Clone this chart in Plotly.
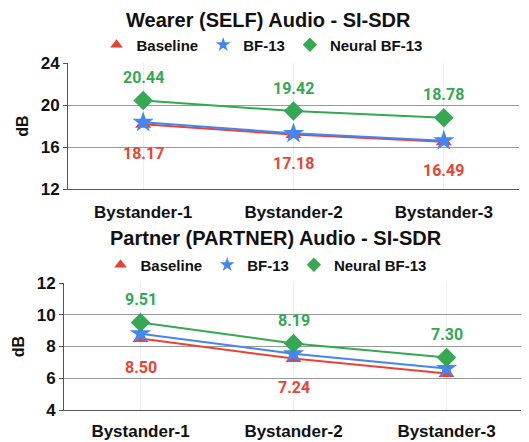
import plotly.graph_objects as go

categories = ["Bystander-1", "Bystander-2", "Bystander-3"]

self_baseline = [18.17, 17.18, 16.49]
self_bf13 = [18.35, 17.30, 16.60]
self_neural = [20.44, 19.42, 18.78]
self_baseline_labels = ["18.17", "17.18", "16.49"]
self_neural_labels = ["20.44", "19.42", "18.78"]

partner_baseline = [8.50, 7.24, 6.30]
partner_bf13 = [8.80, 7.55, 6.62]
partner_neural = [9.51, 8.19, 7.30]
partner_baseline_labels = ["8.50", "7.24", None]
partner_neural_labels = ["9.51", "8.19", "7.30"]

series_names = ["Baseline", "BF-13", "Neural BF-13"]
colors = ["#ea4335", "#4285f4", "#34a853"]
symbols = ["triangle-up", "star", "diamond"]
msizes = [14, 16, 15]

# page body has an 8px margin: figure is drawn from (8, 8)
OFF = 8
W, H = 529 - OFF, 442 - OFF
def px(p):
    return (p - OFF) / W
def py(p):
    return 1 - (p - OFF) / H

FONT = "Arial, Liberation Sans, sans-serif"
LBL_FONT = "Roboto, Arial, sans-serif"

fig = go.Figure()

panels = [
    dict(xa="x", ya="y", legend="legend",
         data=[self_baseline, self_bf13, self_neural],
         lo=self_baseline_labels, hi=self_neural_labels),
    dict(xa="x2", ya="y2", legend="legend2",
         data=[partner_baseline, partner_bf13, partner_neural],
         lo=partner_baseline_labels, hi=partner_neural_labels),
]

for p in panels:
    for i in range(3):
        fig.add_trace(go.Scatter(
            x=categories, y=p["data"][i], mode="lines+markers",
            line=dict(color=colors[i], width=2),
            marker=dict(symbol=symbols[i], size=msizes[i], color=colors[i]),
            xaxis=p["xa"], yaxis=p["ya"], showlegend=False, name=series_names[i],
        ))
    for i in range(3):
        fig.add_trace(go.Scatter(
            x=[None], y=[None], mode="markers",
            marker=dict(symbol=symbols[i], size=11, color=colors[i]),
            name=series_names[i], legend=p["legend"], showlegend=True,
            xaxis=p["xa"], yaxis=p["ya"],
        ))
    for c, v, t in zip(categories, p["data"][2], p["hi"]):
        if t is None:
            continue
        fig.add_annotation(x=c, y=v, text=t, xref=p["xa"], yref=p["ya"],
                           showarrow=False, yshift=23,
                           font=dict(family=LBL_FONT, size=16, color=colors[2], weight="bold"))
    for c, v, t in zip(categories, p["data"][0], p["lo"]):
        if t is None:
            continue
        fig.add_annotation(x=c, y=v, text=t, xref=p["xa"], yref=p["ya"],
                           showarrow=False, yshift=-29,
                           font=dict(family=LBL_FONT, size=16, color=colors[0], weight="bold"))

axis_common = dict(
    showline=True, linecolor="#555555", linewidth=1, automargin=False,
    tickfont=dict(family=FONT, size=17, color="#111111", weight="bold"),
)

fig.update_layout(
    width=W, height=H,
    margin=dict(l=0, r=0, t=0, b=0, autoexpand=False),
    plot_bgcolor="white", paper_bgcolor="white",
    xaxis=dict(domain=[px(68), px(519)], anchor="y", range=[-0.5, 2.5],
               showgrid=True, gridcolor="#eeeeee", ticks="", ticklabelstandoff=8,
               **axis_common),
    yaxis=dict(domain=[py(189), py(63)], anchor="x", range=[12, 24], dtick=4,
               showgrid=True, gridcolor="#999999", ticks="outside", ticklen=4,
               tickcolor="#555555", zeroline=False,
               title=dict(text="dB", standoff=8,
                          font=dict(family=FONT, size=16, color="#111111", weight="bold")),
               **axis_common),
    xaxis2=dict(domain=[px(64), px(523)], anchor="y2", range=[-0.5, 2.5],
                showgrid=True, gridcolor="#eeeeee", ticks="", ticklabelstandoff=6,
                **axis_common),
    yaxis2=dict(domain=[py(410), py(283)], anchor="x2", range=[4, 12], dtick=2,
                showgrid=True, gridcolor="#999999", ticks="outside", ticklen=4,
                tickcolor="#555555", zeroline=False,
                title=dict(text="dB", standoff=8,
                           font=dict(family=FONT, size=16, color="#111111", weight="bold")),
                **axis_common),
    legend=dict(orientation="h", x=px(262), xanchor="center", y=py(45), yanchor="middle",
                font=dict(family=FONT, size=15, color="#111111", weight="bold"),
                bgcolor="rgba(0,0,0,0)", itemwidth=30, tracegroupgap=0),
    legend2=dict(orientation="h", x=px(266), xanchor="center", y=py(265), yanchor="middle",
                 font=dict(family=FONT, size=15, color="#111111", weight="bold"),
                 bgcolor="rgba(0,0,0,0)", itemwidth=30, tracegroupgap=0),
    annotations=list(fig.layout.annotations) + [
        dict(text="Wearer (SELF) Audio - SI-SDR", x=px(268), y=1, xref="paper", yref="paper",
             showarrow=False, xanchor="center", yanchor="top", borderpad=0,
             font=dict(family=FONT, size=20, color="#111111", weight="bold")),
        dict(text="Partner (PARTNER) Audio - SI-SDR", x=px(276), y=py(238), xref="paper", yref="paper",
             showarrow=False, xanchor="center", yanchor="middle",
             font=dict(family=FONT, size=20, color="#111111", weight="bold")),
    ],
)

fig.write_html("out.html")
